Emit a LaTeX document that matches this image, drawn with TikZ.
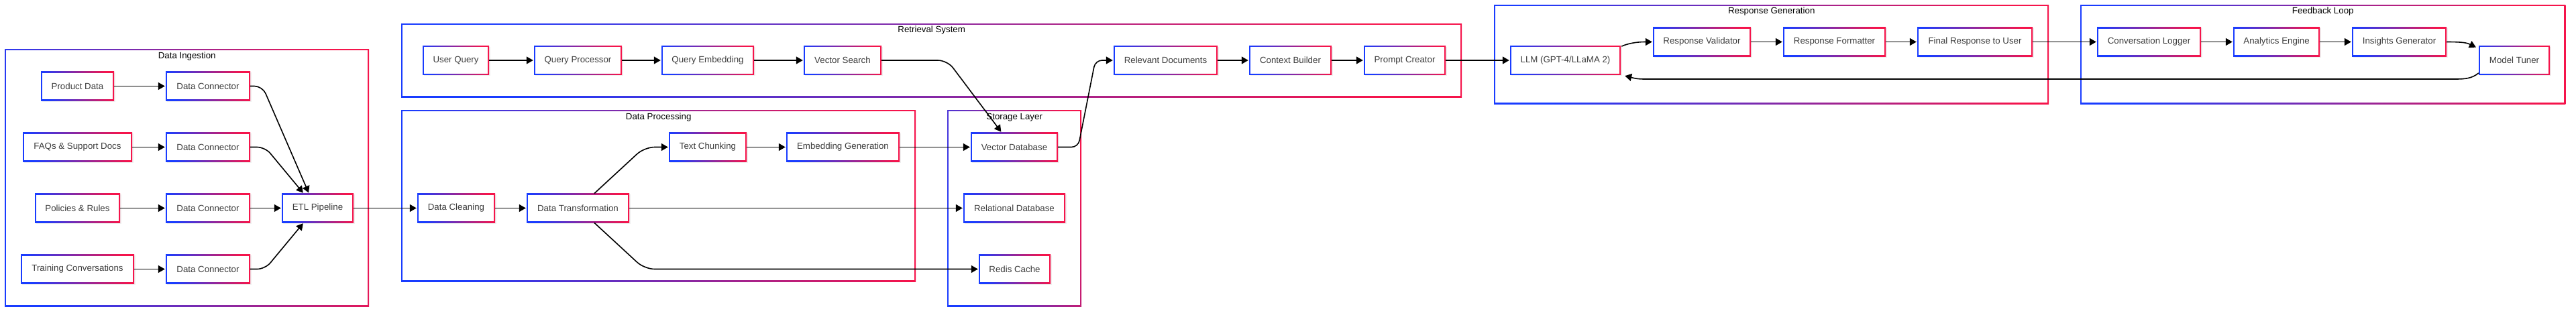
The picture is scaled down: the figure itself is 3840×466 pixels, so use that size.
\documentclass[tikz,border=0pt]{standalone}
\usepackage{fontspec}
\setmainfont{Liberation Sans}
\usetikzlibrary{arrows.meta,shadows}
\definecolor{cblue}{RGB}{25,60,255}
\definecolor{cred}{RGB}{245,20,75}
\definecolor{ctext}{RGB}{60,60,60}
\tikzset{
  gradring/.style={path picture={
    \shade[left color=cblue, right color=cred, shading angle=105]
      (path picture bounding box.south west) rectangle (path picture bounding box.north east);
    \fill[white]
      ([shift={(#1,#1)}]path picture bounding box.south west) rectangle
      ([shift={(-#1,-#1)}]path picture bounding box.north east);
  }},
  box/.style={rectangle, fill=white, inner sep=0pt, minimum height=43.5pt,
    gradring=1.8pt, text=ctext, font=\fontsize{13.3}{16}\selectfont,
    drop shadow={shadow xshift=1.5pt, shadow yshift=-1.5pt, opacity=0.12}},
  cluster/.style={rectangle, fill=white, inner sep=0pt, anchor=north west, gradring=1.8pt},
  ctitle/.style={text=black, font=\fontsize{13.3}{16}\selectfont, inner sep=0pt},
  arr/.style={draw=black, line width=1.6pt, -{Triangle[length=10pt,width=11pt]}, shorten >=1pt},
}
\begin{document}
\begin{tikzpicture}[x=1pt, y=-1pt]
\useasboundingbox[fill=white] (0,0) rectangle (3840,466);

% clusters
\node[cluster, minimum width=543pt, minimum height=384pt] (ding) at (7,73) {};
\node[cluster, minimum width=1581pt, minimum height=110pt] (ret) at (598,35) {};
\node[cluster, minimum width=767pt, minimum height=256pt] (proc) at (598,164) {};
\node[cluster, minimum width=200pt, minimum height=293pt] (stor) at (1412,164) {};
\node[cluster, minimum width=827pt, minimum height=148pt] (resp) at (2227,7) {};
\node[cluster, minimum width=723pt, minimum height=148pt] (feed) at (3101,7) {};

\node[ctitle] (tding) at ([yshift=-11pt]ding.north) {Data Ingestion};
\node[ctitle] (tret) at ([yshift=-10pt]ret.north) {Retrieval System};
\node[ctitle] (tproc) at ([yshift=-11pt]proc.north) {Data Processing};
\node[ctitle] (tstor) at ([yshift=-11pt]stor.north) {Storage Layer};
\node[ctitle] (tresp) at ([yshift=-10pt]resp.north) {Response Generation};
\node[ctitle] (tfeed) at ([yshift=-10pt]feed.north) {Feedback Loop};

% data ingestion
\node[box, minimum width=109pt] (pd) at (115.5,128.5) {Product Data};
\node[box, minimum width=163pt] (faq) at (115.5,219.5) {FAQs \& Support Docs};
\node[box, minimum width=127pt] (pol) at (115.5,310.5) {Policies \& Rules};
\node[box, minimum width=169pt] (tc) at (115.5,401.5) {Training Conversations};
\node[box, minimum width=126pt] (dc1) at (310,128.5) {Data Connector};
\node[box, minimum width=126pt] (dc2) at (310,219.5) {Data Connector};
\node[box, minimum width=126pt] (dc3) at (310,310.5) {Data Connector};
\node[box, minimum width=126pt] (dc4) at (310,401.5) {Data Connector};
\node[box, minimum width=107pt] (etl) at (473.5,310.5) {ETL Pipeline};

% retrieval
\node[box, minimum width=99pt] (uq) at (679.5,90) {User Query};
\node[box, minimum width=131pt] (qp) at (861.5,90) {Query Processor};
\node[box, minimum width=138pt] (qe) at (1055,90) {Query Embedding};
\node[box, minimum width=116pt] (vs) at (1256,90) {Vector Search};
\node[box, minimum width=155pt] (rd) at (1737.5,90) {Relevant Documents};
\node[box, minimum width=123pt] (cb) at (1923.5,90) {Context Builder};
\node[box, minimum width=122pt] (pc) at (2094,90) {Prompt Creator};

% processing
\node[box, minimum width=116pt] (dcl) at (680,310.5) {Data Cleaning};
\node[box, minimum width=153pt] (dt) at (861.5,310.5) {Data Transformation};
\node[box, minimum width=116pt] (tch) at (1055,219.5) {Text Chunking};
\node[box, minimum width=169pt] (eg) at (1256.5,219.5) {Embedding Generation};

% storage
\node[box, minimum width=130pt] (vdb) at (1512,219.5) {Vector Database};
\node[box, minimum width=152pt] (rdb) at (1512,310.5) {Relational Database};
\node[box, minimum width=107pt] (redis) at (1512.5,401.5) {Redis Cache};

% response
\node[box, minimum width=165pt] (llm) at (2333.5,90) {LLM (GPT-4/LLaMA 2)};
\node[box, minimum width=146pt] (rv) at (2537,62.5) {Response Validator};
\node[box, minimum width=153pt] (rf) at (2734.5,62.5) {Response Formatter};
\node[box, minimum width=172pt] (fr) at (2944,62.5) {Final Response to User};

% feedback
\node[box, minimum width=155pt] (cl) at (3203.5,62.5) {Conversation Logger};
\node[box, minimum width=129pt] (ae) at (3393.5,62.5) {Analytics Engine};
\node[box, minimum width=141pt] (ig) at (3576.5,62.5) {Insights Generator};
\node[box, minimum width=106pt] (mt) at (3748,90) {Model Tuner};

% helper coordinates
\coordinate (k1) at ([xshift=-36pt]tch.west);
\coordinate (m1) at (3660,118);
\coordinate (m2) at (2450,118);

% edges: ingestion
\draw[arr] (pd.east) -- (dc1.west);
\draw[arr] (faq.east) -- (dc2.west);
\draw[arr] (pol.east) -- (dc3.west);
\draw[arr] (tc.east) -- (dc4.west);
\draw[arr, rounded corners=12pt] (dc1.east) -- ++(18,0) -- ([xshift=-13pt]etl.north);
\draw[arr, rounded corners=12pt] (dc2.east) -- ++(22,0) -- ([xshift=-21pt]etl.north);
\draw[arr] (dc3.east) -- (etl.west);
\draw[arr, rounded corners=12pt] (dc4.east) -- ++(22,0) -- ([xshift=-21pt]etl.south);

% processing
\draw[arr] (etl.east) -- (dcl.west);
\draw[arr] (dcl.east) -- (dt.west);
\draw[arr, rounded corners=15pt] ([xshift=24.5pt]dt.north) -- (k1) -- (tch.west);
\draw[arr] (dt.east) -- (rdb.west);
\draw[arr, rounded corners=15pt] ([xshift=24.5pt]dt.south) -- (k1 |- redis.west) -- (redis.west);
\draw[arr] (tch.east) -- (eg.west);
\draw[arr] (eg.east) -- (vdb.west);

% retrieval
\draw[arr] (uq.east) -- (qp.west);
\draw[arr] (qp.east) -- (qe.west);
\draw[arr] (qe.east) -- (vs.west);
\draw[arr, rounded corners=14pt] (vs.east) -- ++(98,0) -- ([xshift=-19pt]vdb.north);
\draw[arr, rounded corners=10pt] (vdb.east) -- ++(30,0) -- ([xshift=-27pt]rd.west) -- (rd.west);
\draw[arr] (rd.east) -- (cb.west);
\draw[arr] (cb.east) -- (pc.west);
\draw[arr] (pc.east) -- (llm.west);

% response
\draw[arr] ([xshift=1pt,yshift=-1pt]llm.north east) .. controls +(14,-6) and +(-18,0) .. (rv.west);
\draw[arr] (rv.east) -- (rf.west);
\draw[arr] (rf.east) -- (fr.west);
\draw[arr] (fr.east) -- (cl.west);

% feedback
\draw[arr] (cl.east) -- (ae.west);
\draw[arr] (ae.east) -- (ig.west);
\draw[arr] (ig.east) .. controls +(25,0) and +(-14,-7) .. ([xshift=-3pt,yshift=-3pt]mt.north west);
\draw[arr] ([yshift=3pt]mt.south west) .. controls (3685,117) and (3675,118) .. (m1) -- (m2)
   .. controls (2438,118) and (2430,115) .. ([xshift=5pt,yshift=-1pt]llm.south east);
\end{tikzpicture}
\end{document}
